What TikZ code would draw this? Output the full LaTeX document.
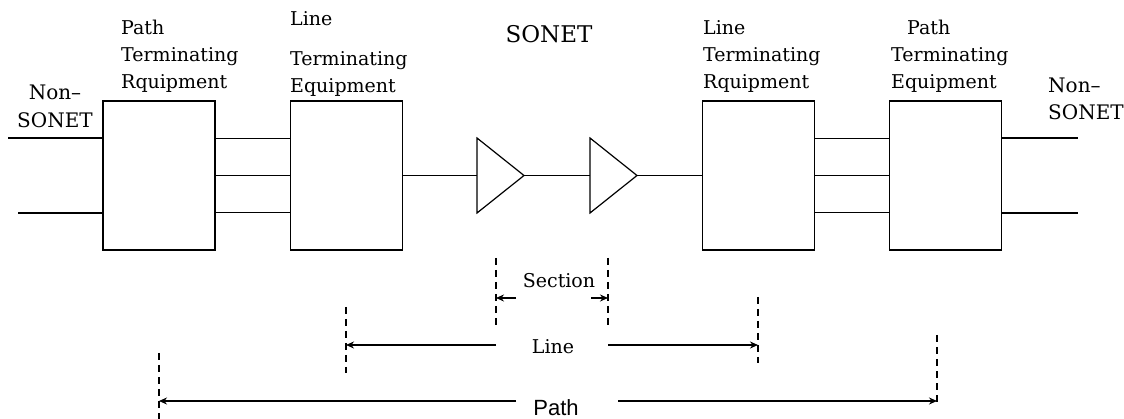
\documentclass[tikz,border=0pt]{standalone}
\usepackage{fontspec}
\setmainfont{DejaVu Serif}
\newfontfamily\pathfont{Liberation Sans}
\usetikzlibrary{arrows.meta, positioning, shapes.geometric, calc}

\tikzset{
  equip/.style={draw, line width=1.4pt, minimum width=112pt, minimum height=149pt, inner sep=0pt, outer sep=0pt},
  amp/.style={draw, line width=1.2pt, isosceles triangle, isosceles triangle stretches,
    minimum width=75pt, minimum height=47pt, inner sep=0pt, outer sep=0pt, anchor=lower side},
  wire/.style={line width=1.4pt},
  lbl/.style={font=\fontsize{19}{27}\selectfont, align=left, anchor=north west, inner sep=0pt},
  guide/.style={line width=1.3pt, dash pattern=on 7pt off 5pt},
  span/.style={line width=1.3pt, -{Stealth[length=8pt,width=7pt]}},
}

\begin{document}
\begin{tikzpicture}[x=1pt, y=-1pt]
  \useasboundingbox (0,0) rectangle (1124,419);

  % equipment boxes and regenerators
  \node[equip] (pteA) at (159,175.5) {};
  \node[equip] (lteA) at (346.5,175.5) {};
  \node[equip] (lteB) at (758.5,175.5) {};
  \node[equip] (pteB) at (945.5,175.5) {};
  \node[amp] (regA) at (477,175.5) {};
  \node[amp] (regB) at (590,175.5) {};

  % wiring
  \coordinate (inA) at (8,138);
  \coordinate (inB) at (18,213);
  \coordinate (outA) at (1078,138);
  \coordinate (outB) at (1078,213);
  \draw[wire] (inA) -- (pteA.west |- inA);
  \draw[wire] (inB) -- (pteA.west |- inB);
  \draw[wire] (pteB.east |- outA) -- (outA);
  \draw[wire] (pteB.east |- outB) -- (outB);
  \foreach \f in {0.25,0.5,0.75} {
    \draw[wire] ($(pteA.north east)!\f!(pteA.south east)$) -- ($(lteA.north west)!\f!(lteA.south west)$);
    \draw[wire] ($(lteB.north east)!\f!(lteB.south east)$) -- ($(pteB.north west)!\f!(pteB.south west)$);
  }
  \draw[wire] (lteA.east) -- (regA.lower side);
  \draw[wire] (regA.apex) -- (regB.lower side);
  \draw[wire] (regB.apex) -- (lteB.west);

  % labels
  \node[lbl] (pteAtxt) at (121,20) {Path\\Terminating\\Rquipment};
  \node[lbl] (lteAtxt) at (290,11) {Line\\[13pt]Terminating\\Equipment};
  \node[lbl] (lteBtxt) at (703,20) {Line\\Terminating\\Rquipment};
  \node[lbl] (pteBtxt) at (891,20) {\hspace{16pt}Path\\Terminating\\Equipment};
  \node[font=\fontsize{23}{23}\selectfont, anchor=base, inner sep=0pt] (sonet) at (549,43) {SONET};
  \node[font=\fontsize{20}{28}\selectfont, align=center, anchor=north, inner sep=0pt] (nsA) at (55,85) {Non–\\SONET};
  \node[font=\fontsize{20}{27}\selectfont, align=left, anchor=north west, inner sep=0pt] (nsB) at (1048,78) {Non–\\SONET};

  % spans
  \coordinate (secL) at (496,298);
  \coordinate (secR) at (608,298);
  \coordinate (lineL) at (346,345);
  \coordinate (lineR) at (758,345);
  \coordinate (pathL) at (159,401);
  \coordinate (pathR) at (937,401);
  \draw[guide] (secL) ++(0,-40) -- ++(0,69);
  \draw[guide] (secR) ++(0,-40) -- ++(0,69);
  \draw[guide] (lineL) ++(0,-38) -- ++(0,66);
  \draw[guide] (lineR) ++(0,-48) -- ++(0,66);
  \draw[guide] (pathL) ++(0,-48) -- ++(0,66);
  \draw[guide] (pathR) ++(0,-66) -- ++(0,67);
  \draw[span] (secL) ++(20,0) -- (secL);
  \draw[span] (secR) ++(-17,0) -- (secR);
  \draw[span] (secL |- lineL) -- (lineL);
  \draw[span] (secR |- lineR) -- (lineR);
  \draw[span] (516,401) -- (pathL);
  \draw[span] (618,401) -- (pathR);
  \node[font=\fontsize{19}{19}\selectfont, anchor=base, inner sep=0pt] (secTxt) at (559,288) {Section};
  \node[font=\fontsize{19}{19}\selectfont, anchor=base, inner sep=0pt] (lineTxt) at (553,353) {Line};
  \node[font=\pathfont\fontsize{22}{22}\selectfont, anchor=base, inner sep=0pt] (pathTxt) at (556,415) {Path};
\end{tikzpicture}
\end{document}
